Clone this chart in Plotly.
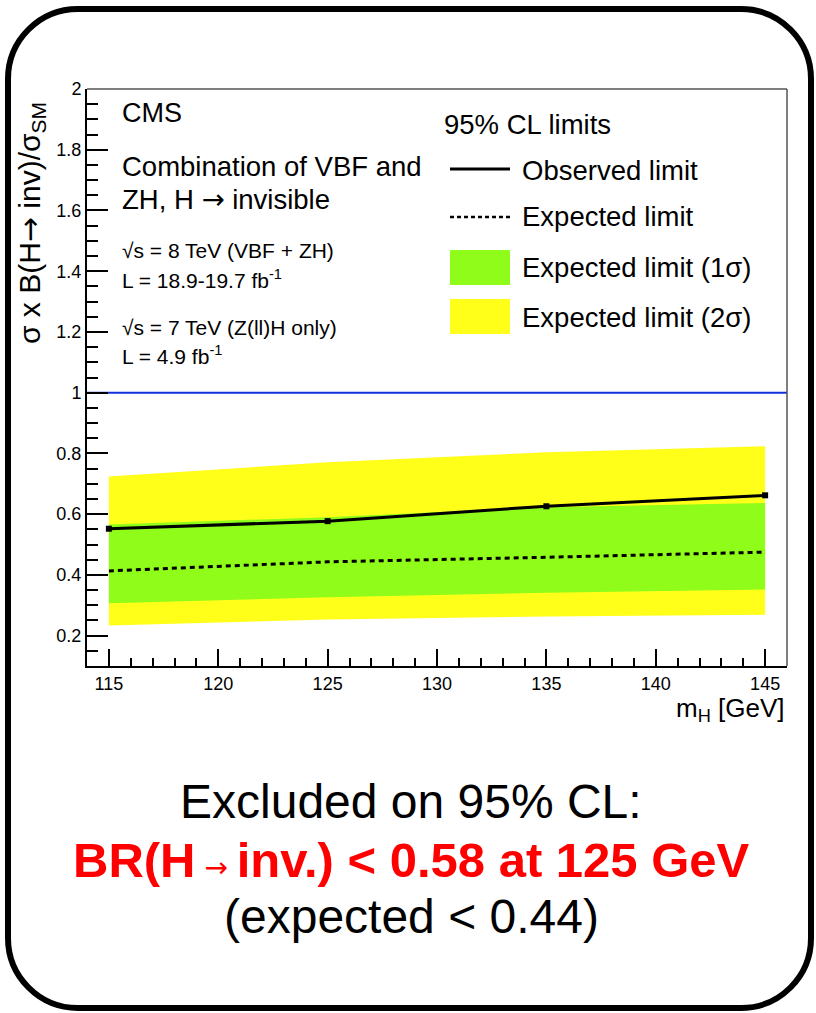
import plotly.graph_objects as go

# ---------------- data ----------------
mass = [115, 125, 135, 145]
observed = [0.552, 0.577, 0.626, 0.662]
expected = [0.413, 0.443, 0.458, 0.475]
band1_hi = [0.566, 0.590, 0.623, 0.637]
band1_lo = [0.307, 0.326, 0.341, 0.352]
band2_hi = [0.724, 0.771, 0.804, 0.824]
band2_lo = [0.233, 0.253, 0.263, 0.269]
sm_line = 1.0

GREEN = "#8ffc1a"
YELLOW = "#ffff1a"
FONT = "Liberation Sans, Arial, Helvetica, sans-serif"
ARROW = "<span style='font-family:DejaVu Sans'>→</span>"

W_FIG, H_FIG = 816, 1013
L, R, T, B = 87, 29, 89, 347
PW = W_FIG - L - R
PH = H_FIG - T - B


def px(X):
    return (X - L) / PW


def py(Y):
    return (T + PH - Y) / PH


fig = go.Figure()

# 2 sigma band
fig.add_trace(go.Scatter(
    x=mass + mass[::-1], y=band2_hi + band2_lo[::-1],
    fill="toself", fillcolor=YELLOW, line=dict(width=0), mode="lines",
    hoverinfo="skip", showlegend=False))
# 1 sigma band
fig.add_trace(go.Scatter(
    x=mass + mass[::-1], y=band1_hi + band1_lo[::-1],
    fill="toself", fillcolor=GREEN, line=dict(width=0), mode="lines",
    hoverinfo="skip", showlegend=False))
# SM line
fig.add_trace(go.Scatter(
    x=[114, 146], y=[sm_line, sm_line], mode="lines",
    line=dict(color="#1030e0", width=2), showlegend=False, hoverinfo="skip"))
# expected
fig.add_trace(go.Scatter(
    x=mass, y=expected, mode="lines",
    line=dict(color="black", width=3, dash="5px,4px"), showlegend=False))
# observed
fig.add_trace(go.Scatter(
    x=mass, y=observed, mode="lines+markers",
    line=dict(color="black", width=3),
    marker=dict(symbol="square", size=6, color="black"), showlegend=False))

fig.update_xaxes(
    range=[114, 146], showgrid=False, zeroline=False,
    showline=True, linecolor="black", linewidth=2,
    ticks="inside", ticklen=17, tickwidth=2, tickcolor="black",
    tick0=115, dtick=5,
    minor=dict(ticks="inside", ticklen=8, tickwidth=1.5, tickcolor="black", dtick=1, tick0=115),
    tickfont=dict(family=FONT, size=18, color="black"))
fig.update_yaxes(
    range=[0.1, 2], showgrid=False, zeroline=False,
    showline=True, linecolor="black", linewidth=2,
    ticks="inside", ticklen=21, tickwidth=2, tickcolor="black",
    tick0=0.2, dtick=0.2,
    minor=dict(ticks="inside", ticklen=11, tickwidth=1.5, tickcolor="black", dtick=0.05, tick0=0.1),
    tickfont=dict(family=FONT, size=18, color="black"))

shapes = []
# top / right frame
shapes.append(dict(type="line", xref="paper", yref="paper", x0=0, x1=1, y0=1, y1=1,
                   line=dict(color="#555555", width=1.5)))
shapes.append(dict(type="line", xref="paper", yref="paper", x0=1, x1=1, y0=0, y1=1,
                   line=dict(color="#555555", width=1.5)))

# legend samples
shapes.append(dict(type="line", xref="paper", yref="paper", x0=px(450), x1=px(510),
                   y0=py(169), y1=py(169), line=dict(color="black", width=3)))
shapes.append(dict(type="line", xref="paper", yref="paper", x0=px(450), x1=px(510),
                   y0=py(217), y1=py(217), line=dict(color="black", width=2.5, dash="4px,3px")))
shapes.append(dict(type="rect", xref="paper", yref="paper", x0=px(450), x1=px(510),
                   y0=py(285), y1=py(250), fillcolor=GREEN, line=dict(width=0)))
shapes.append(dict(type="rect", xref="paper", yref="paper", x0=px(450), x1=px(510),
                   y0=py(334), y1=py(299), fillcolor=YELLOW, line=dict(width=0)))

# rounded frame around everything
x0, x1, y0, y1, r = 8, 811, 9, 1008, 70
k = 0.5523 * r
pts = [
    ("M", [(x0 + r, y0)]),
    ("L", [(x1 - r, y0)]),
    ("C", [(x1 - r + k, y0), (x1, y0 + r - k), (x1, y0 + r)]),
    ("L", [(x1, y1 - r)]),
    ("C", [(x1, y1 - r + k), (x1 - r + k, y1), (x1 - r, y1)]),
    ("L", [(x0 + r, y1)]),
    ("C", [(x0 + r - k, y1), (x0, y1 - r + k), (x0, y1 - r)]),
    ("L", [(x0, y0 + r)]),
    ("C", [(x0, y0 + r - k), (x0 + r - k, y0), (x0 + r, y0)]),
]
path = " ".join(
    cmd + " " + " ".join(f"{px(a):.5f},{py(b):.5f}" for a, b in p) for cmd, p in pts
) + " Z"
shapes.append(dict(type="path", xref="paper", yref="paper", path=path,
                   line=dict(color="black", width=6), fillcolor="rgba(0,0,0,0)"))

fig.update_layout(shapes=shapes)

ann = []


def text(X, Y, s, size, xanchor="left", color="black", yanchor="middle", angle=0):
    ann.append(dict(x=px(X), y=py(Y), xref="paper", yref="paper", text=s, showarrow=False,
                    xanchor=xanchor, yanchor=yanchor, textangle=angle,
                    font=dict(family=FONT, size=size, color=color)))


text(120, 113, "CMS", 27)
text(120, 166, "Combination of VBF and", 27.5)
text(120, 199, "ZH, H " + ARROW + " invisible", 27.5)
text(120, 250, "√s = 8 TeV (VBF + ZH)", 21)
text(120, 279, "L = 18.9-19.7 fb<sup>-1</sup>", 21)
text(120, 327, "√s = 7 TeV (Z(ll)H only)", 21)
text(120, 355, "L = 4.9 fb<sup>-1</sup>", 21)

text(442, 124, "95% CL limits", 27.5)
text(520, 170, "Observed limit", 27.5)
text(520, 216, "Expected limit", 27.5)
text(520, 267, "Expected limit (1σ)", 27.5)
text(520, 317, "Expected limit (2σ)", 27.5)

# axis titles
text(31, 223, "σ x B(H" + ARROW + " inv)/σ<sub>SM</sub>", 30, xanchor="center", angle=-90)
text(787, 709, "m<sub>H</sub> [GeV]", 26, xanchor="right")

# summary text
text(411, 801, "Excluded on 95% CL:", 48, xanchor="center")
text(411, 860,
     "<b>BR(H</b><span style='font-family:DejaVu Sans;font-size:28px'> → </span><b>inv.) &lt; 0.58 at 125 GeV</b>",
     49, xanchor="center", color="#ff0000")
text(411, 917, "(expected &lt; 0.44)", 48, xanchor="center")

fig.update_layout(
    annotations=ann,
    width=W_FIG, height=H_FIG,
    margin=dict(l=L, r=R, t=T, b=B),
    paper_bgcolor="white", plot_bgcolor="white",
    showlegend=False,
)

fig.write_html("out.html")
